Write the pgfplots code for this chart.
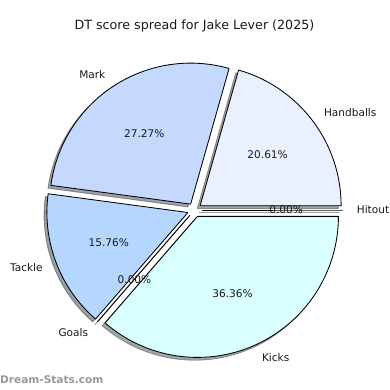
\documentclass[border=0pt]{standalone}
\usepackage{fontspec}
\setmainfont{DejaVu Sans}
\usepackage{pgfplots}
\usepackage{pgfplotstable}
\usepackage{etoolbox}
\pgfplotsset{compat=1.18}

\definecolor{cHand}{RGB}{234,240,255}
\definecolor{cMark}{RGB}{197,217,255}
\definecolor{cTack}{RGB}{181,214,255}
\definecolor{cGoal}{RGB}{190,200,255}
\definecolor{cKick}{RGB}{218,255,255}
\definecolor{cHit}{RGB}{200,230,255}

% DT score components (points) in pie order
\pgfplotstableread[col sep=comma]{
label,val,col
Handballs,34,cHand
Mark,45,cMark
Tackle,26,cTack
Goals,0,cGoal
Kicks,60,cKick
Hitout,0,cHit
}\piedata

\pgfplotstablegetrowsof{\piedata}%
\pgfmathtruncatemacro\nrows{\pgfplotsretval-1}%
\def\ptotal{0}%
\pgfplotsforeachungrouped \i in {0,...,\nrows}{%
  \pgfplotstablegetelem{\i}{val}\of\piedata
  \pgfmathsetmacro\ptotal{\ptotal+\pgfplotsretval}%
}%
\def\pcum{0}%
\def\pieshadows{}\def\piewedges{}\def\pielabels{}%
\pgfplotsforeachungrouped \i in {0,...,\nrows}{%
  \pgfplotstablegetelem{\i}{val}\of\piedata \let\pv\pgfplotsretval
  \pgfplotstablegetelem{\i}{col}\of\piedata \let\pcol\pgfplotsretval
  \pgfplotstablegetelem{\i}{label}\of\piedata \let\plab\pgfplotsretval
  \pgfmathsetmacro\pA{\pcum/\ptotal*360}%
  \pgfmathsetmacro\pcum{\pcum+\pv}%
  \pgfmathsetmacro\pB{\pcum/\ptotal*360}%
  \pgfmathsetmacro\pD{\pB-\pA}%
  \pgfmathsetmacro\pM{(\pA+\pB)/2}%
  \pgfmathsetmacro\pox{0.05*cos(\pM)}%
  \pgfmathsetmacro\poy{0.05*sin(\pM)}%
  \pgfmathsetmacro\psx{\pox-0.02}%
  \pgfmathsetmacro\psy{\poy-0.02}%
  \pgfmathsetmacro\plx{\pox+1.1*cos(\pM)}%
  \pgfmathsetmacro\ply{\poy+1.1*sin(\pM)}%
  \pgfmathsetmacro\ppx{\pox+0.6*cos(\pM)}%
  \pgfmathsetmacro\ppy{\poy+0.6*sin(\pM)}%
  \pgfmathsetmacro\ppct{\pv/\ptotal*100}%
  \pgfmathtruncatemacro\pside{\plx>0}%
  \ifnum\pside=1 \def\panc{west}\else\def\panc{east}\fi
  \xappto\pieshadows{\noexpand\addplot[draw=\pcol!30!black, fill=\pcol!30!black, opacity=0.5, line width=0.8pt, variable=\noexpand\t, samples at={-1,0,...,61}] ({\psx+(\noexpand\t>=0)*(\noexpand\t<=60)*cos(\pA+\pD*\noexpand\t/60)}, {\psy+(\noexpand\t>=0)*(\noexpand\t<=60)*sin(\pA+\pD*\noexpand\t/60)});}%
  \xappto\piewedges{\noexpand\addplot[draw=black, fill=\pcol, line width=0.8pt, line join=round, variable=\noexpand\t, samples at={-1,0,...,61}] ({\pox+(\noexpand\t>=0)*(\noexpand\t<=60)*cos(\pA+\pD*\noexpand\t/60)}, {\poy+(\noexpand\t>=0)*(\noexpand\t<=60)*sin(\pA+\pD*\noexpand\t/60)});}%
  \xappto\pielabels{\noexpand\node[anchor=\panc, inner sep=0pt, font=\noexpand\fontsize{10}{12}\noexpand\selectfont, text=black!90] at (axis cs:\plx,\ply) {\plab};%
    \noexpand\node[inner sep=0pt, font=\noexpand\fontsize{10}{12}\noexpand\selectfont, text=black!90] at (axis cs:\ppx,\ppy) {\noexpand\pgfmathprintnumber[fixed,fixed zerofill,precision=2,assume math mode=true]{\ppct}\noexpand\%};}%
}%

\begin{document}
\begin{tikzpicture}
\begin{axis}[
  hide axis,
  scale only axis,
  width=368bp, height=368bp,
  xmin=-1.3794, xmax=1.3865,
  ymin=-1.2766, ymax=1.4894,
  clip=false,
]
\pieshadows
\piewedges
\pielabels
\node[font=\fontsize{12}{14.4}\selectfont, text=black!90] at (axis cs:0,1.305) {DT score spread for Jake Lever (2025)};
\node[anchor=west, inner sep=0pt, font=\bfseries\fontsize{10}{12}\selectfont, text=black!40] at (axis cs:-1.3794,-1.2057) {Dream-Stats.com};
\end{axis}
\pgfresetboundingbox
\useasboundingbox (current axis.south west) rectangle (current axis.north east);
\end{tikzpicture}
\end{document}
